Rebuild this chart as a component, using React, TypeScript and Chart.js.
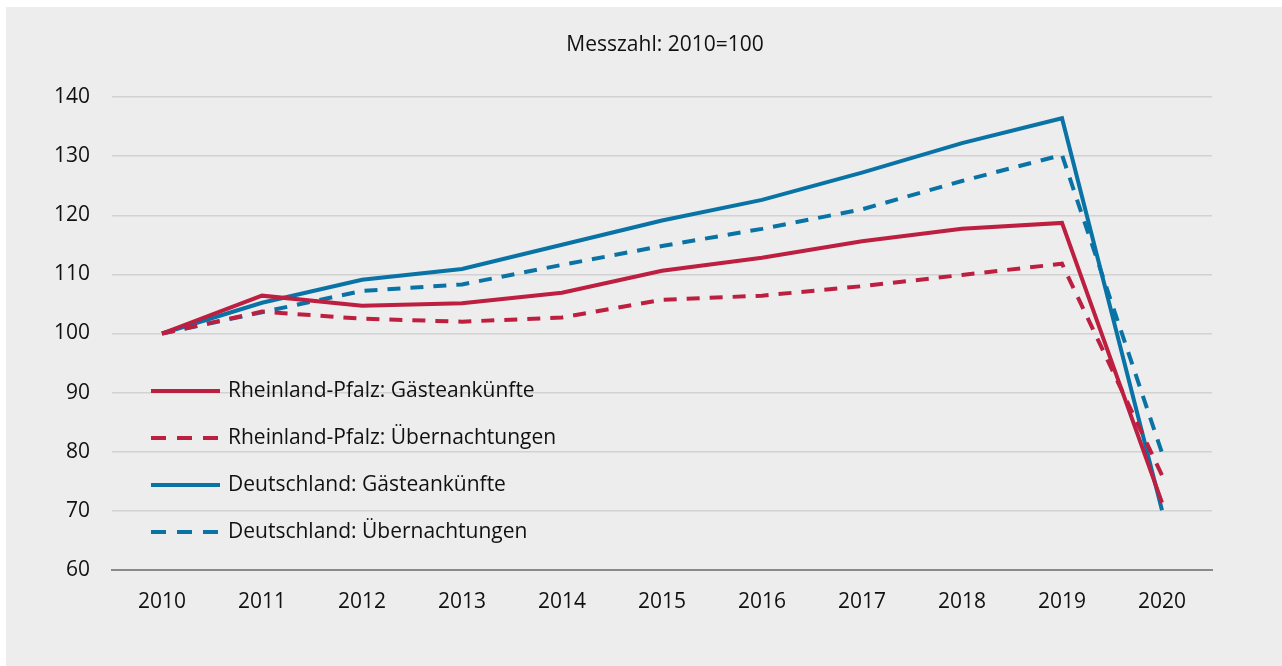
import React, { useEffect, useRef } from "react";
import { Chart, registerables } from "chart.js";

Chart.register(...registerables);

const years = ["2010", "2011", "2012", "2013", "2014", "2015", "2016", "2017", "2018", "2019", "2020"];
const rpGaeste = [100, 106.4, 104.7, 105.1, 106.9, 110.6, 112.8, 115.6, 117.7, 118.7, 71.4];
const rpUebern = [100, 103.7, 102.5, 102.0, 102.7, 105.7, 106.4, 108.0, 109.9, 111.8, 76.0];
const deGaeste = [100, 105.2, 109.1, 110.9, 115.0, 119.1, 122.6, 127.2, 132.2, 136.4, 70.1];
const deUebern = [100, 103.6, 107.2, 108.3, 111.6, 114.8, 117.7, 121.0, 125.8, 130.2, 79.8];
const seriesLabels = [
  "Rheinland-Pfalz: Gästeankünfte",
  "Rheinland-Pfalz: Übernachtungen",
  "Deutschland: Gästeankünfte",
  "Deutschland: Übernachtungen",
];
const titleText = "Messzahl: 2010=100";

const RED = "#bd1f40";
const BLUE = "#0a73a6";
const FONT = "'Open Sans', 'Noto Sans', sans-serif";

const overlayPlugin = {
  id: "overlay",
  afterDraw(chart: any) {
    const ctx = chart.ctx;
    const ca = chart.chartArea;
    ctx.save();
    // title
    ctx.font = `21px ${FONT}`;
    ctx.fillStyle = "#111";
    ctx.textAlign = "center";
    ctx.textBaseline = "middle";
    ctx.fillText(titleText, (ca.left + ca.right) / 2 + 3, 45);
    // legend
    const x0 = ca.left + 39;
    const x1 = ca.left + 108;
    const y0 = ca.top + 294;
    const step = 47;
    chart.data.datasets.forEach((ds: any, i: number) => {
      const y = y0 + i * step;
      ctx.beginPath();
      ctx.strokeStyle = ds.borderColor;
      ctx.lineWidth = 3.8;
      ctx.lineCap = "butt";
      ctx.setLineDash(ds.borderDash && ds.borderDash.length ? [15, 11] : []);
      ctx.moveTo(x0, y);
      ctx.lineTo(x1, y);
      ctx.stroke();
      ctx.setLineDash([]);
      ctx.font = `21px ${FONT}`;
      ctx.fillStyle = "#111";
      ctx.textAlign = "left";
      ctx.textBaseline = "middle";
      ctx.fillText(ds.label, x1 + 8, y);
    });
    ctx.restore();
  },
};

export default function App() {
  const ref = useRef<HTMLCanvasElement>(null);
  useEffect(() => {
    if (!ref.current) return;
    const mk = (label: string, data: number[], color: string, dashed: boolean) => ({
      label,
      data,
      borderColor: color,
      backgroundColor: color,
      borderWidth: 4,
      borderDash: dashed ? [13, 10] : [],
      pointRadius: 0,
      tension: 0,
      fill: false,
    });
    const chart = new Chart(ref.current, {
      type: "line",
      data: {
        labels: years,
        datasets: [
          mk(seriesLabels[0], rpGaeste, RED, false),
          mk(seriesLabels[1], rpUebern, RED, true),
          mk(seriesLabels[2], deGaeste, BLUE, false),
          mk(seriesLabels[3], deUebern, BLUE, true),
        ],
      },
      options: {
        responsive: false,
        animation: false,
        devicePixelRatio: 1,
        layout: { padding: { top: 97, right: 70, left: 0, bottom: 0 } },
        plugins: {
          legend: { display: false },
          title: { display: false },
          tooltip: { enabled: false },
        },
        scales: {
          x: {
            offset: true,
            grid: { display: false, drawTicks: false },
            border: { display: true, color: "#8a8a8a", width: 2 },
            ticks: { color: "#111", font: { family: FONT, size: 21 }, padding: 19, maxRotation: 0 },
            afterFit: (s: any) => {
              s.height = 96;
            },
          },
          y: {
            min: 60,
            max: 140,
            ticks: { stepSize: 10, color: "#111", font: { family: FONT, size: 21 }, padding: 22 },
            grid: { color: "#d2d2d2", lineWidth: 1.5, drawTicks: false },
            border: { display: false },
            afterFit: (s: any) => {
              s.width = 112;
            },
          },
        },
      },
      plugins: [overlayPlugin],
    });
    return () => chart.destroy();
  }, []);
  return (
    <div style={{ position: "fixed", left: 0, top: 0, width: 1282, height: 666, background: "#fff" }}>
      <div style={{ position: "absolute", left: 6, top: 7, right: 0, bottom: 0, background: "#ededed" }} />
      <canvas ref={ref} width={1282} height={666} style={{ position: "absolute", left: 0, top: 0 }} />
    </div>
  );
}
